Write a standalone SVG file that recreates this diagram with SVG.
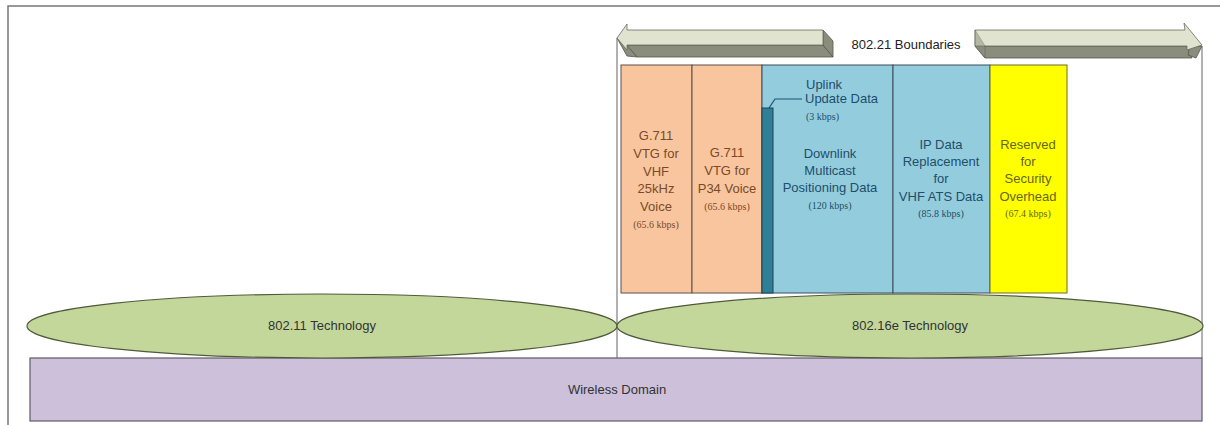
<svg xmlns="http://www.w3.org/2000/svg" width="1220" height="425" viewBox="0 0 1220 425">
<style>
.t{font-family:"Liberation Sans",Arial,sans-serif;font-size:13px;text-anchor:middle}
.k{font-family:"Liberation Serif","Times New Roman",serif;font-size:10px;text-anchor:middle}
.or{fill:#f9c59e;stroke:#5d5048;stroke-width:1}
.bl{fill:#93cddd;stroke:#3a4d5a;stroke-width:1}
.ye{fill:#ffff00;stroke:#6b6b30;stroke-width:1}
.ot{fill:#7a4a28}
.btx{fill:#1f4e6b}
.yt{fill:#66661a}
.ell{fill:#c4d79b;stroke:#4f5a3a;stroke-width:1.2}
.frame{stroke:#777;stroke-width:1.5;fill:none}
.bnd{stroke:#888;stroke-width:1.3;fill:none}
.lt{fill:#e0e3cf;stroke:#6b6b60;stroke-width:0.8}
.dk{fill:#8b8d7c;stroke:#55554d;stroke-width:0.8}
</style>
<rect width="1220" height="425" fill="#fff"/>
<g id="frame">
<path class="frame" d="M8,425 V6 H1220"/>
</g>
<g id="boundaries">
<line class="bnd" x1="617" y1="38" x2="617" y2="358"/>
<line class="bnd" x1="1202" y1="46" x2="1202" y2="358"/>
<polygon class="dk" points="627,45 823,45 833,57 637,57"/>
<polygon class="dk" points="823,30 833,41 833,57 823,45"/>
<polygon class="dk" points="617,38 627,46 637,57 627,56"/>
<polygon class="lt" points="627,30 823,30 823,45 627,45 627,50 617,38 627,24"/>
<polygon class="dk" points="975,46 1187,46 1192,58 985,58"/>
<polygon class="dk" points="1190,46 1202,46 1196,58 1188,55"/>
<polygon class="lt" points="975,30 1185,30 1184,23 1202,45 1187,50 1187,46 975,46"/>
<polygon class="dk" points="975,30 975,46 985,58 985,46" opacity="0.5"/>
<text class="t" x="906" y="49" fill="#222">802.21 Boundaries</text>
</g>
<g id="wireless-domain">
<rect x="30" y="358" width="1172" height="63" fill="#ccc0da" stroke="#5f5a68" stroke-width="1.2"/>
<text class="t" x="617" y="394" fill="#333">Wireless Domain</text>
</g>
<g id="tech-80211">
<ellipse class="ell" cx="322" cy="326" rx="295" ry="32"/>
<text class="t" x="322" y="330" fill="#333">802.11 Technology</text>
</g>
<g id="tech-80216e">
<ellipse class="ell" cx="910" cy="326" rx="293" ry="32"/>
<text class="t" x="910" y="330" fill="#333">802.16e Technology</text>
</g>
<g id="vhf-voice">
<rect class="or" x="621" y="65" width="71" height="228"/>
<text class="t ot" x="656" y="140">G.711</text>
<text class="t ot" x="656" y="158">VTG for</text>
<text class="t ot" x="656" y="176">VHF</text>
<text class="t ot" x="656" y="193">25kHz</text>
<text class="t ot" x="656" y="211">Voice</text>
<text class="k ot" x="656" y="228">(65.6 kbps)</text>
</g>
<g id="p34-voice">
<rect class="or" x="692" y="65" width="70" height="228"/>
<text class="t ot" x="727" y="157">G.711</text>
<text class="t ot" x="727" y="175">VTG for</text>
<text class="t ot" x="727" y="193">P34 Voice</text>
<text class="k ot" x="727" y="210">(65.6 kbps)</text>
</g>
<g id="downlink">
<rect class="bl" x="762" y="65" width="131" height="228"/>
<text class="t btx" x="830" y="158">Downlink</text>
<text class="t btx" x="830" y="175">Multicast</text>
<text class="t btx" x="830" y="192">Positioning Data</text>
<text class="k btx" x="830" y="209">(120 kbps)</text>
</g>
<g id="uplink">
<rect x="762" y="108" width="11" height="185" fill="#2f7f96" stroke="#1d4450" stroke-width="1"/>
<text class="t btx" x="806" y="89" style="text-anchor:start">Uplink</text>
<text class="t btx" x="805" y="103" style="text-anchor:start">Update Data</text>
<text class="k btx" x="806" y="120" style="text-anchor:start">(3 kbps)</text>
</g>
<g id="ip-data">
<rect class="bl" x="893" y="65" width="97" height="228"/>
<text class="t btx" x="941" y="149">IP Data</text>
<text class="t btx" x="941" y="166">Replacement</text>
<text class="t btx" x="941" y="183">for</text>
<text class="t btx" x="941" y="201">VHF ATS Data</text>
<text class="k btx" x="941" y="217">(85.8 kbps)</text>
</g>
<g id="security">
<rect class="ye" x="990" y="65" width="77" height="228"/>
<text class="t yt" x="1028" y="149">Reserved</text>
<text class="t yt" x="1028" y="166">for</text>
<text class="t yt" x="1028" y="183">Security</text>
<text class="t yt" x="1028" y="201">Overhead</text>
<text class="k yt" x="1028" y="217">(67.4 kbps)</text>
</g>
<g id="connectors">
<polyline points="769,108 775,99 802,99" fill="none" stroke="#1f4e6b" stroke-width="1.2"/>
</g>
</svg>
